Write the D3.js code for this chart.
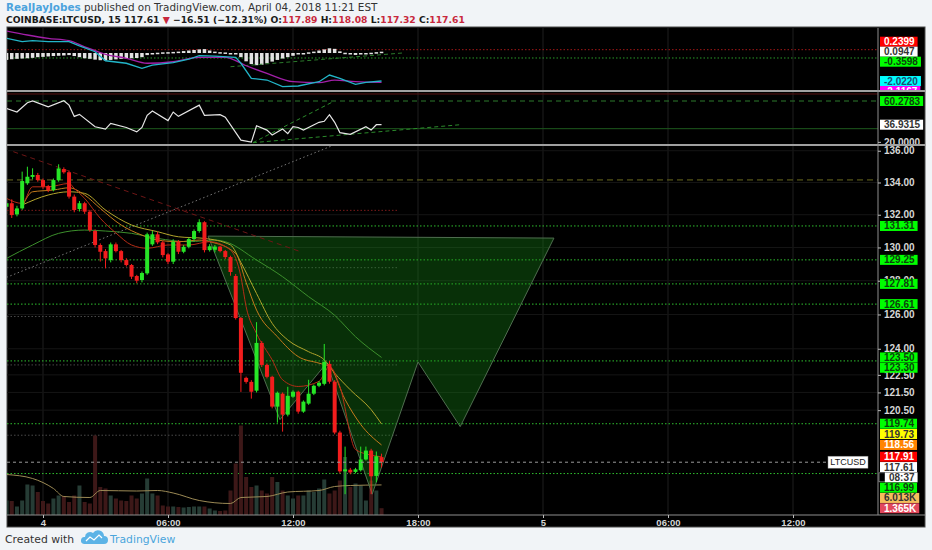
<!DOCTYPE html>
<html>
<head>
<meta charset="utf-8">
<script src="https://cdn.jsdelivr.net/npm/d3@7"></script>
<style>
  body { margin:0; background:#f1f4f7; }
  svg { display:block; }
</style>
</head>
<body>
<script>

// ---- data (15 min bars, Apr 3 22:15 UTC onward) ----
var barStart = Date.UTC(2018, 3, 3, 22, 15);
var barMinutes = 15;

var opens = [
  132.49,132.71,132.02,132.39,133.95,134.35,134.47,134.15,133.78,133.53,
  134.15,134.84,134.64,133.12,132.35,132.71,132.19,131.00,130.15,129.78,
  129.24,130.19,129.78,129.24,128.94,128.28,128.04,128.44,130.19,130.80,
  130.31,129.58,129.14,130.35,129.74,130.04,130.51,131.00,131.54,129.84,
  129.86,130.05,129.78,129.42,128.28,125.79,122.33,122.10,121.60,124.34,
  123.07,122.39,120.70,121.43,120.25,121.26,121.54,120.42,120.87,121.43,
  121.88,121.99,123.13,122.11,119.25,117.11,117.20,117.08,117.17,117.76,
  118.25,116.86,117.89];
var highs = [
  133.03,132.95,132.55,134.68,134.99,134.89,134.60,134.25,133.85,134.25,
  135.14,134.95,134.75,133.25,132.85,132.80,132.30,131.10,130.25,129.90,
  130.30,130.30,129.85,129.35,129.00,128.35,128.55,130.90,131.00,130.95,
  130.40,129.65,130.50,130.45,130.15,130.60,131.10,131.72,131.60,130.20,
  130.15,130.10,129.85,129.50,128.40,125.85,122.40,122.20,125.55,124.45,
  123.15,122.45,121.55,121.50,121.82,121.62,121.60,121.05,122.22,121.95,
  122.15,124.28,123.30,122.20,119.35,118.47,117.30,117.30,118.47,118.47,
  118.35,118.20,118.08];
var lows = [
  131.88,131.80,131.90,132.30,133.85,134.20,134.05,133.60,133.40,133.45,
  134.05,134.55,133.00,132.15,132.20,132.05,130.95,130.00,129.15,128.74,
  129.10,129.70,129.10,128.85,128.10,127.85,127.90,128.35,130.10,130.20,
  129.40,129.00,129.00,129.60,129.65,129.95,130.40,130.90,129.70,129.75,
  129.70,129.70,129.30,128.30,125.70,121.53,122.00,121.15,121.50,122.95,
  122.30,120.60,119.80,119.30,120.15,121.20,120.30,120.35,120.80,121.35,
  121.80,121.90,122.00,119.15,117.00,115.87,116.95,117.00,117.10,117.70,
  115.87,116.52,117.32];
var closes = [
  132.71,131.98,132.39,134.09,134.36,134.47,134.15,133.74,133.53,134.15,
  134.88,134.64,133.12,132.29,132.71,132.19,131.06,130.15,129.74,129.34,
  130.19,129.78,129.24,128.94,128.24,128.00,128.46,130.80,130.80,130.31,
  129.54,129.14,130.35,129.74,130.04,130.51,131.00,131.54,129.84,130.07,
  130.05,129.78,129.42,128.52,125.79,122.62,122.10,121.54,124.34,123.07,
  122.39,120.70,121.48,120.25,121.31,121.54,120.42,120.98,121.43,121.88,
  122.05,123.24,122.11,119.25,117.11,117.22,117.05,117.22,117.76,118.25,
  116.84,117.94,117.61];
// volume, thousands
var volumes = [
  2.9,2.8,1.7,2.9,6.1,5.9,4.6,2.8,2.3,3.3,
  3.9,3.8,2.6,3.9,5.9,2.6,2.3,15.9,5.6,5.3,
  3.9,3.3,2.9,2.8,3.9,3.3,4.3,7.3,4.3,3.9,
  1.9,1.7,1.7,1.6,1.5,1.6,1.7,1.7,1.7,1.3,
  0.9,0.8,0.9,4.9,10.3,17.9,7.6,5.6,5.9,4.9,
  4.3,7.6,6.6,4.9,3.9,3.3,3.9,3.9,4.9,4.6,
  5.3,7.1,4.3,4.9,6.9,11.6,5.6,6.3,5.9,2.9,
  6.9,4.9,1.365];
var volumeAvg = [[0,8.1],[5,7.3],[9,5.3],[11,3.7],[16,3.5],[18,4.9],[25,4.8],[29,4.9],[32,4.4],
  [37,2.9],[43,2.3],[45,3.5],[50,3.7],[54,4.6],[60,4.9],[63,5.7],[66,5.9],[72,6.013]];

// moving averages on price, [bar, value]
var maFast = [[0,133.01],[3,132.7],[5,133.73],[8,133.73],[12,133.94],[13,133.63],[15,133.01],[18,131.78],
  [21,130.88],[24,130.15],[27,129.95],[31,130.15],[35,130.15],[39,130.35],[43,129.84],[45,128.24],
  [46,126.46],[48,124.89],[51,123.36],[53,122.22],[56,121.84],[60,122.13],[62,122.98],[64,121.84],
  [67,118.31],[70,118.0],[72,117.91]];
var maMid = [[3,132.49],[5,133.42],[9,133.53],[12,133.67],[15,133.22],[18,132.39],[22,131.37],[26,130.75],
  [29,130.45],[33,130.35],[37,130.45],[39,130.35],[44,129.64],[46,127.9],[48,126.26],[52,124.7],
  [56,123.55],[60,123.17],[62,122.98],[65,121.1],[68,119.7],[72,118.56]];
var maSlow = [[3,132.6],[8,133.22],[12,133.42],[15,133.32],[19,132.29],[24,131.37],[29,130.96],[33,130.65],
  [38,130.55],[43,130.15],[45,129.09],[48,127.24],[51,125.48],[54,124.51],[58,123.83],[61,123.36],
  [63,122.6],[66,121.65],[70,120.53],[72,119.73]];
var maLong = [[0,129.34],[5,130.15],[10,130.86],[15,131.06],[19,131.0],[24,130.86],[29,130.55],[35,130.35],
  [40,130.45],[42,130.35],[48,129.24],[53,128.24],[58,127.05],[63,125.95],[67,124.7],[72,123.5]];

// MACD pane
var macdLine = [[0,1.06],[3,0.82],[5,0.89],[8,0.82],[12,0.82],[14,0.51],[17,0.09],[19,-0.56],[23,-0.74],
  [26,-1.10],[28,-0.87],[32,-0.70],[35,-0.45],[37,-0.19],[40,-0.22],[44,-0.31],[45,-0.74],[47,-1.83],
  [50,-1.95],[53,-2.43],[56,-2.38],[60,-2.07],[62,-1.59],[64,-1.83],[67,-2.26],[69,-2.12],[72,-2.022]];
var macdSignal = [[0,1.59],[4,1.30],[8,1.06],[12,0.89],[15,0.45],[19,-0.09],[23,-0.38],[27,-0.74],
  [32,-0.63],[37,-0.31],[42,-0.31],[46,-0.92],[50,-1.47],[55,-2.07],[60,-2.14],[63,-1.95],[67,-2.07],[72,-2.1167]];
var macdHist = [
  -0.50,-0.45,-0.42,-0.40,-0.38,-0.35,-0.30,-0.28,-0.25,-0.22,
  -0.20,-0.18,-0.15,-0.22,-0.30,-0.38,-0.42,-0.48,-0.52,-0.55,
  -0.50,-0.46,-0.42,-0.40,-0.38,-0.36,-0.30,-0.15,-0.05,0.02,
  0.05,0.06,0.08,0.10,0.14,0.18,0.22,0.26,0.28,0.18,
  0.10,0.06,0.04,0.00,-0.05,-0.30,-0.60,-0.80,-0.88,-0.85,
  -0.75,-0.62,-0.50,-0.40,-0.30,-0.20,-0.10,-0.02,0.05,0.10,
  0.18,0.26,0.34,0.30,0.12,0.02,-0.08,-0.14,-0.10,-0.04,
  0.02,0.06,0.0947];
var macdLevels = [0.2399, -0.3598];
var macdTrend = [[43,-0.99],[76,0.0]];

// RSI pane
var rsiLine = [[0,52.9],[2,49.4],[4,58.6],[5,60.3],[8,54.5],[11,60.6],[12,56.2],[13,45.1],[14,47.1],
  [17,34.9],[19,32.6],[20,38.3],[23,34.2],[25,29.8],[26,34.2],[27,46.1],[28,50.4],[31,41.0],[32,49.4],
  [33,45.1],[37,56.2],[38,46.1],[41,46.8],[42,44.3],[45,21.7],[47,19.7],[48,35.9],[50,31.6],[51,26.8],
  [53,32.6],[54,28.1],[55,34.9],[56,34.2],[57,31.6],[60,39.3],[61,40.3],[62,46.8],[63,39.3],[64,29.1],
  [66,27.5],[69,34.9],[70,31.6],[71,36.9],[72,36.9315]];
var rsiLevelUpper = 60.2783, rsiLevelLower = 33.0, rsiLevelTop = 67.2;
var rsiTrends = [[[47.3,19.2],[62.7,59.6]], [[47.3,19.2],[87.1,36.9]]];
var rsiTicks = [20];

// drawings on the price pane
var greenLevels = [131.31, 129.25, 127.81, 126.61, 123.30, 119.74, 116.99];
var yellowLevels = [134.16];
var shortLevels = [132.27, 128.78, 125.88, 123.07, 119.10];
var shortLevelEnd = 75.2;
var patternPoints = [[38.7,130.69],[52.5,119.97],[61.5,123.19],[70.2,115.87],[79.0,123.24],[87.1,119.58],[105.1,130.57]];
var trendGray = [[0,128.2],[62.4,136.3]];
var trendRed = [[1.3,135.94],[56.4,129.75]];

var priceTicks = [136,134,132,130,128,126,124,122.5,121.5,120.5];
var timeTickDates = [Date.UTC(2018,3,4,0), Date.UTC(2018,3,4,6), Date.UTC(2018,3,4,12), Date.UTC(2018,3,4,18),
  Date.UTC(2018,3,5,0), Date.UTC(2018,3,5,6), Date.UTC(2018,3,5,12)];
var timeTickLabels = ["4","06:00","12:00","18:00","5","06:00","12:00"];

// value tags on the right-hand axis
var mainTagValues = [131.31,129.25,127.81,126.61,123.50,123.30,119.74,119.73,118.56,117.91,117.61,117.61,116.99,6.013,1.365];
var mainTagTexts  = ["131.31","129.25","127.81","126.61","123.50","123.30","119.74","119.73","118.56","117.91","117.61","08:37","116.99","6.013K","1.365K"];
var mainTagKinds  = ["level","level","level","level","level","level","level","slow","mid","fast","last","timer","level","volAvg","vol"];
var macdTagValues = [0.2399, 0.0947, -0.3598, -2.0220, -2.1167];
var macdTagKinds  = ["red","plain","level","macd","signal"];
var rsiTagValues  = [60.2783, 36.9315];
var rsiTagKinds   = ["level","plain"];

var lastPrice = 117.61;

// ---- layout ----
var W = 932, H = 550;
var left = 7, axisX = 878, right = 925;
var macdPane = {top:28, bottom:90};
var rsiPane  = {top:92, bottom:144};
var mainPane = {top:146, bottom:515};
var FONT = "'Liberation Sans', Arial, sans-serif";

var tagStyle = {
  level:{bg:"#00ff00", fg:"#0d3f0d"},
  slow:{bg:"#ffff00", fg:"#333"},
  mid:{bg:"#ff8400", fg:"#fff"},
  fast:{bg:"#ff0000", fg:"#fff"},
  red:{bg:"#ff0000", fg:"#fff"},
  last:{bg:"#ffffff", fg:"#333"},
  timer:{bg:"#ffffff", fg:"#333"},
  plain:{bg:"#ffffff", fg:"#333"},
  volAvg:{bg:"#f5bd5c", fg:"#333"},
  vol:{bg:"#e2485c", fg:"#fff"},
  macd:{bg:"#00ffff", fg:"#1b4f72"},
  signal:{bg:"#ff00ff", fg:"#fff"}
};

var svg = d3.select("body").append("svg").attr("width",W).attr("height",H);

var defs = svg.append("defs");
function clip(id, x, y, w, h) {
  defs.append("clipPath").attr("id",id).append("rect").attr("x",x).attr("y",y).attr("width",w).attr("height",h);
}
clip("cMacd", left, macdPane.top, axisX-left, macdPane.bottom-macdPane.top);
clip("cRsi", left, rsiPane.top, axisX-left, rsiPane.bottom-rsiPane.top);
clip("cMain", left, mainPane.top, axisX-left, mainPane.bottom-mainPane.top);
clip("aMacd", axisX, macdPane.top, right-axisX, macdPane.bottom-macdPane.top);
clip("aRsi", axisX, rsiPane.top, right-axisX, rsiPane.bottom-rsiPane.top);
clip("aMain", axisX, mainPane.top, right-axisX, mainPane.bottom-mainPane.top);

// scales
var x = d3.scaleUtc().domain([Date.UTC(2018,3,4,0), Date.UTC(2018,3,4,6)]).range([43,168]);
var barTime = function(i){ return new Date(barStart + i*barMinutes*60000); };
var xi = function(i){ return x(barTime(i)); };
var price = d3.scaleLog().domain([114.75,136.30]).range([mainPane.bottom, mainPane.top]);
var vol = d3.scaleLinear().domain([0,73.8]).range([mainPane.bottom, mainPane.top]);
var macdY = d3.scaleLinear().domain([-2.67,1.805]).range([macdPane.bottom, macdPane.top]);
var rsiY = d3.scaleLinear().domain([17.9,69.15]).range([rsiPane.bottom, rsiPane.top]);

// header
var head = svg.append("g").style("font-family","'DejaVu Sans', Verdana, sans-serif");
var h1 = head.append("text").attr("x",6).attr("y",11).style("font-size","10.4px");
h1.append("tspan").attr("fill","#4ba3dd").style("font-weight","bold").text("RealJayJobes");
h1.append("tspan").attr("fill","#333").text(" published on TradingView.com, April 04, 2018 11:21 EST");
var h2 = head.append("text").attr("x",6).attr("y",23).style("font-size","9.2px").style("font-weight","bold");
var red = "#c8283c";
[["COINBASE:LTCUSD, 15 117.61 ","#1a1a1a"],["\u25BC",red],[" \u221216.51 (\u221212.31%) O:","#1a1a1a"],["117.89",red],
 [" H:","#1a1a1a"],["118.08",red],[" L:","#1a1a1a"],["117.32",red],[" C:","#1a1a1a"],["117.61",red]]
  .forEach(function(d){ h2.append("tspan").attr("fill",d[1]).text(d[0]); });

// frame
svg.append("rect").attr("x",left).attr("y",27).attr("width",right-left).attr("height",500)
  .attr("fill","#000").attr("stroke","#4a4a4a");

// vertical grid in every pane
[macdPane,rsiPane,mainPane].forEach(function(p){
  svg.append("g").selectAll("line").data(timeTickDates).enter().append("line")
    .attr("x1",function(d){return x(d);}).attr("x2",function(d){return x(d);})
    .attr("y1",p.top).attr("y2",p.bottom).attr("stroke","#1e1e1e");
});

var lineG = function(xs, ys){ return d3.line().x(function(d){return xs(d[0]);}).y(function(d){return ys(d[1]);}); };

// ---------- MACD pane ----------
var gM = svg.append("g").attr("clip-path","url(#cMacd)");
gM.selectAll("line.lv").data(macdLevels).enter().append("line")
  .attr("x1",left).attr("x2",axisX).attr("y1",function(d){return macdY(d);}).attr("y2",function(d){return macdY(d);})
  .attr("stroke",function(d,i){return i===0 ? "#a31818" : "#2a9a2a";}).attr("stroke-dasharray","1.5,2");
gM.selectAll("rect").data(macdHist).enter().append("rect")
  .attr("x",function(d,i){return xi(i)-1.75;}).attr("width",3.5)
  .attr("y",function(d){return Math.min(macdY(d),macdY(0));})
  .attr("height",function(d){return Math.max(1.5,Math.abs(macdY(d)-macdY(0)));})
  .attr("fill","#e2e2e2");
gM.append("path").datum(macdTrend).attr("d",lineG(xi,macdY)).attr("fill","none")
  .attr("stroke","#2b7a2b").attr("stroke-dasharray","4,3");
gM.append("path").datum(macdSignal).attr("d",lineG(xi,macdY).curve(d3.curveMonotoneX)).attr("fill","none")
  .attr("stroke","#a21fa8").attr("stroke-width",1.3);
gM.append("path").datum(macdLine).attr("d",lineG(xi,macdY)).attr("fill","none")
  .attr("stroke","#22b5c8").attr("stroke-width",1.3);

// ---------- RSI pane ----------
var gR = svg.append("g").attr("clip-path","url(#cRsi)");
gR.append("line").attr("x1",left).attr("x2",axisX).attr("y1",rsiY(rsiLevelTop)).attr("y2",rsiY(rsiLevelTop)).attr("stroke","#5a1010");
gR.append("line").attr("x1",left).attr("x2",axisX).attr("y1",rsiY(rsiLevelUpper)).attr("y2",rsiY(rsiLevelUpper))
  .attr("stroke","#2c7a2c").attr("stroke-dasharray","5,4");
gR.append("line").attr("x1",left).attr("x2",axisX).attr("y1",rsiY(rsiLevelLower)).attr("y2",rsiY(rsiLevelLower)).attr("stroke","#1d5a1d");
rsiTrends.forEach(function(t){
  gR.append("path").datum(t).attr("d",lineG(xi,rsiY)).attr("fill","none").attr("stroke","#2b8a2b").attr("stroke-dasharray","4,3");
});
gR.append("path").datum(rsiLine).attr("d",lineG(xi,rsiY)).attr("fill","none").attr("stroke","#e6e6e6").attr("stroke-width",1.2);

// ---------- price pane ----------
var gP = svg.append("g").attr("clip-path","url(#cMain)");
gP.selectAll("line.grid").data(priceTicks).enter().append("line")
  .attr("x1",left).attr("x2",axisX).attr("y1",function(d){return price(d);}).attr("y2",function(d){return price(d);})
  .attr("stroke","#151515");
gP.selectAll("line.yl").data(yellowLevels).enter().append("line")
  .attr("x1",left).attr("x2",axisX).attr("y1",function(d){return price(d);}).attr("y2",function(d){return price(d);})
  .attr("stroke","#6c6a1e").attr("stroke-dasharray","6,4");
gP.selectAll("line.sl").data(shortLevels).enter().append("line")
  .attr("x1",left).attr("x2",xi(shortLevelEnd)).attr("y1",function(d){return price(d);}).attr("y2",function(d){return price(d);})
  .attr("stroke",function(d,i){return i===0 ? "#7d1a1a" : "#4a4a4a";}).attr("stroke-dasharray","1.5,2");
gP.selectAll("line.gl").data(greenLevels).enter().append("line")
  .attr("x1",left).attr("x2",axisX).attr("y1",function(d){return price(d);}).attr("y2",function(d){return price(d);})
  .attr("stroke","#2fbf2f").attr("stroke-dasharray","1.5,2");

// volume
var bars = d3.range(opens.length).map(function(i){
  return {i:i, o:opens[i], h:highs[i], l:lows[i], c:closes[i], v:volumes[i]};
});
gP.selectAll("rect.vol").data(bars).enter().append("rect")
  .attr("x",function(d){return xi(d.i)-2;}).attr("width",4)
  .attr("y",function(d){return vol(d.v);}).attr("height",function(d){return vol(0)-vol(d.v);})
  .attr("fill",function(d){return d.c>=d.o ? "#263c35" : "#3d1818";});
gP.append("path").datum(volumeAvg).attr("d",lineG(xi,vol).curve(d3.curveMonotoneX)).attr("fill","none")
  .attr("stroke","#9c8a55");

// pattern
gP.append("polygon")
  .attr("points",patternPoints.map(function(d){return xi(d[0])+","+price(d[1]);}).join(" "))
  .attr("fill","rgba(22,140,22,0.34)").attr("stroke","#4f6e4f");

// trend lines
gP.append("path").datum(trendGray).attr("d",lineG(xi,price)).attr("stroke","#777").attr("stroke-dasharray","1.5,2.5");
gP.append("path").datum(trendRed).attr("d",lineG(xi,price)).attr("stroke","#6e1616").attr("stroke-dasharray","5,4");

// moving averages
[[maLong,"#3c8f2c"],[maSlow,"#b3a52c"],[maMid,"#c47a1c"],[maFast,"#b52c16"]].forEach(function(m){
  gP.append("path").datum(m[0]).attr("d",lineG(xi,price).curve(d3.curveMonotoneX))
    .attr("fill","none").attr("stroke",m[1]).attr("stroke-width",1);
});

// candles
var up = "#27e627", down = "#f21d1d";
var cg = gP.selectAll("g.candle").data(bars).enter().append("g")
  .attr("fill",function(d){return d.c>=d.o ? up : down;})
  .attr("stroke",function(d){return d.c>=d.o ? up : down;});
cg.append("line").attr("x1",function(d){return xi(d.i);}).attr("x2",function(d){return xi(d.i);})
  .attr("y1",function(d){return price(d.h);}).attr("y2",function(d){return price(d.l);});
cg.append("rect").attr("stroke","none")
  .attr("x",function(d){return xi(d.i)-2;}).attr("width",4)
  .attr("y",function(d){return price(Math.max(d.o,d.c));})
  .attr("height",function(d){return Math.max(1,Math.abs(price(d.o)-price(d.c)));});

// last price line + symbol tag
gP.append("line").attr("x1",left).attr("x2",828).attr("y1",price(lastPrice)).attr("y2",price(lastPrice))
  .attr("stroke","#9a9a9a").attr("stroke-dasharray","3,3");
svg.append("rect").attr("x",828).attr("y",price(lastPrice)-6).attr("width",40).attr("height",12)
  .attr("fill","#fff").attr("stroke","#888").attr("stroke-width",0.5);
svg.append("text").attr("x",848).attr("y",price(lastPrice)).attr("dy","0.35em").attr("text-anchor","middle")
  .style("font-family",FONT).style("font-size","9px").attr("fill","#222").text("LTCUSD");

// separators and axis lines
[91,145].forEach(function(y){
  svg.append("line").attr("x1",left).attr("x2",right).attr("y1",y).attr("y2",y).attr("stroke","#a0a0a0").attr("stroke-width",2);
});
svg.append("line").attr("x1",axisX).attr("x2",axisX).attr("y1",28).attr("y2",mainPane.bottom).attr("stroke","#8e8e8e");
svg.append("line").attr("x1",left).attr("x2",right).attr("y1",mainPane.bottom).attr("y2",mainPane.bottom).attr("stroke","#8e8e8e");

// price axis
function styleAxis(g) {
  g.select(".domain").remove();
  g.selectAll(".tick line").attr("stroke","#bbb");
  g.selectAll(".tick text").attr("fill","#d6d6d6").style("font-family",FONT).style("font-size","10px").style("font-weight","bold");
}
svg.append("g").attr("clip-path","url(#aMain)").append("g").attr("transform","translate("+axisX+",0)")
  .call(d3.axisRight(price).tickValues(priceTicks).tickFormat(d3.format(".2f")).tickSize(3).tickPadding(3))
  .call(styleAxis);
svg.append("g").attr("clip-path","url(#aRsi)").append("g").attr("transform","translate("+axisX+",0)")
  .call(d3.axisRight(rsiY).tickValues(rsiTicks).tickFormat(d3.format(".4f")).tickSize(3).tickPadding(3))
  .call(styleAxis);

// time axis
svg.append("g").attr("transform","translate(0,"+mainPane.bottom+")")
  .call(d3.axisBottom(x).tickValues(timeTickDates.map(function(d){return new Date(d);}))
    .tickFormat(function(d,i){return timeTickLabels[i];}).tickSize(3).tickPadding(1))
  .call(function(g){
    g.select(".domain").remove();
    g.selectAll(".tick line").attr("stroke","#bbb");
    g.selectAll(".tick text").attr("fill","#d6d6d6").style("font-family",FONT).style("font-size","9.5px").style("font-weight","bold");
  });

// value tags
function drawTags(clipId, items, gap, centred) {
  items.sort(function(a,b){return a.y-b.y;});
  if (centred) {
    var groups = [], cur = [items[0]];
    for (var k=1; k<items.length; k++) {
      if (items[k].y - cur[cur.length-1].y < gap) cur.push(items[k]); else { groups.push(cur); cur=[items[k]]; }
    }
    groups.push(cur);
    groups.forEach(function(g){
      var a = Math.floor((g.length-1)/2);
      g.forEach(function(t,j){ t.ly = g[a].y + (j-a)*gap; });
    });
  } else {
    items.forEach(function(t,k){ t.ly = k===0 ? t.y : Math.max(t.y, items[k-1].ly + gap); });
  }
  var g = svg.append("g").attr("clip-path","url(#"+clipId+")");
  items.forEach(function(t){
    var st = tagStyle[t.kind];
    var tg = g.append("g");
    var bx = t.kind === "timer" ? axisX+7 : axisX+2;
    if (t.kind === "timer") tg.append("rect").attr("x",axisX+1).attr("y",t.ly-4.5).attr("width",6).attr("height",9).attr("fill","#000").attr("stroke","#ccc").attr("stroke-width",0.5);
    var r = tg.append("rect").attr("x",bx).attr("y",t.ly-5).attr("height",10).attr("fill",st.bg);
    var tx = tg.append("text").attr("x",bx+4).attr("y",t.ly).attr("dy","0.35em")
      .style("font-family",FONT).style("font-size","10px").style("font-weight","bold").attr("fill",st.fg).text(t.text);
    r.attr("width", tx.node().getComputedTextLength()+7);
  });
}
drawTags("aMain", mainTagValues.map(function(v,i){
  var onVol = mainTagKinds[i]==="volAvg" || mainTagKinds[i]==="vol";
  return {y: onVol ? vol(v) : price(v), text: mainTagTexts[i], kind: mainTagKinds[i]};
}), 10.3, false);
drawTags("aMacd", macdTagValues.map(function(v,i){
  return {y: macdY(v), text: d3.format(".4f")(v).replace("\u2212","-"), kind: macdTagKinds[i]};
}), 10, true);
drawTags("aRsi", rsiTagValues.map(function(v,i){
  return {y: rsiY(v), text: d3.format(".4f")(v), kind: rsiTagKinds[i]};
}), 10, true);

// footer
var foot = svg.append("g");
foot.append("text").attr("x",5).attr("y",543).style("font-family","'DejaVu Sans', sans-serif").style("font-size","10.8px")
  .attr("fill","#333").text("Created with");
foot.append("path").attr("d","M84,544 h20 a4,4 0 0 0 0,-8 a6,6 0 0 0 -11,-3 a5,5 0 0 0 -8,4 a3.5,3.5 0 0 0 -1,7 z").attr("fill","#5cb3e6");
foot.append("path").attr("d","M86,541 l4,-4 l4,3 l5,-5 l3,3").attr("fill","none").attr("stroke","#fff").attr("stroke-width",1.2);
foot.append("text").attr("x",110).attr("y",543).style("font-family","'DejaVu Sans', sans-serif").style("font-size","10.8px")
  .attr("fill","#4aa5dc").text("TradingView");

</script>
</body>
</html>
